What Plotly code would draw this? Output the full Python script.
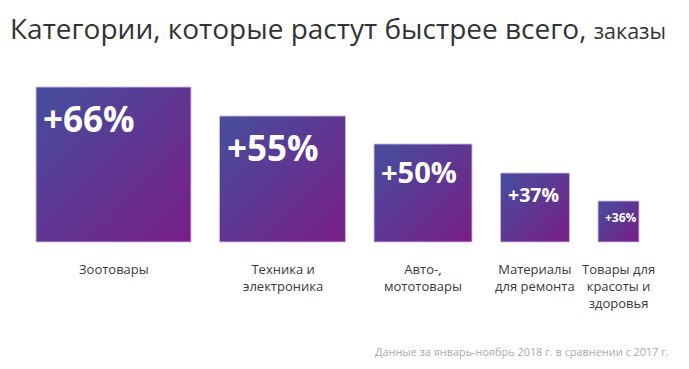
import numpy as np
import plotly.graph_objects as go

# ---- data ----
categories = ["Зоотовары", "Техника и<br>электроника", "Авто-,<br>мототовары",
              "Материалы<br>для ремонта", "Товары для<br>красоты и<br>здоровья"]
growth_pct = [66, 55, 50, 37, 36]

# ---- styles / layout ----
W, H = 689, 369
baseline_px = 242            # baseline, px from top
side = [155, 126, 98, 69, 41]   # decorative square side (px)
font_px = [35, 35, 29, 19.5, 12]
start_x, gap = 36, 28.5
c_start, c_end = "#454e9d", "#7a1e86"
FONT = "Open Sans"

x0 = []
cur = start_x
for s in side:
    x0.append(cur)
    cur += s + gap

fig = go.Figure()
n = 40
for i, s in enumerate(side):
    xe = np.linspace(x0[i], x0[i] + s, n + 1)
    ye = np.linspace(0, s, n + 1)
    fx = (np.arange(n) + 0.5) / n
    fy = (np.arange(n) + 0.5) / n
    z = (fx[None, :] + (1 - fy[:, None])) / 2
    fig.add_trace(go.Heatmap(x=xe, y=ye, z=z, zmin=0, zmax=1,
                             colorscale=[[0, c_start], [1, c_end]],
                             showscale=False, hoverinfo="skip"))
    fig.add_shape(type="rect", x0=x0[i], x1=x0[i] + s, y0=0, y1=s,
                  xref="x", yref="y", line=dict(color="rgba(205,185,230,0.9)", width=1))
    fig.add_annotation(x=x0[i] + 5, y=s - 6, xref="x", yref="y",
                       text=f"<b>+{growth_pct[i]}%</b>", showarrow=False,
                       xanchor="left", yanchor="top",
                       font=dict(family=FONT, size=font_px[i], color="white"))
    fig.add_annotation(x=x0[i] + s / 2, y=-16, xref="x", yref="y",
                       text=categories[i], showarrow=False,
                       xanchor="center", yanchor="top", align="center",
                       font=dict(family=FONT, size=13, color="#3a3a3a"))

fig.add_annotation(x=8, y=baseline_px - 28, xref="x", yref="y", xanchor="left", yanchor="middle",
                   text="Категории, которые растут быстрее всего, <span style='font-size:21.5px'>заказы</span>",
                   showarrow=False, font=dict(family=FONT, size=28, color="#333333"))
fig.add_annotation(x=671, y=baseline_px - 351, xref="x", yref="y", xanchor="right", yanchor="middle",
                   text="Данные за январь-ноябрь 2018 г. в сравнении с 2017 г.",
                   showarrow=False, font=dict(family=FONT, size=10.9, color="#aaaaaa"))

fig.update_layout(
    width=W, height=H, margin=dict(l=0, r=0, t=0, b=0),
    paper_bgcolor="white", plot_bgcolor="white",
    xaxis=dict(range=[0, W], visible=False, fixedrange=True),
    yaxis=dict(range=[baseline_px - H, baseline_px], visible=False, fixedrange=True),
    showlegend=False,
)
fig.write_html("out.html", config={"displayModeBar": False},
               post_script="document.body.style.margin='0';document.body.style.overflow='hidden';")
